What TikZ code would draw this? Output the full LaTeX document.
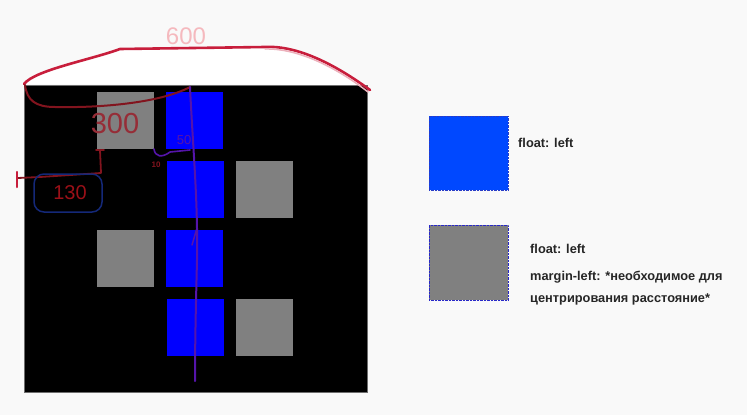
\documentclass[tikz,border=0pt]{standalone}
\usepackage{fontspec}
\setmainfont{Liberation Sans}
\begin{document}
\begin{tikzpicture}[x=1pt,y=-1pt,
  sq/.style={draw=none,inner sep=0pt,minimum width=57pt,minimum height=57pt,anchor=north west},
  graysq/.style={sq,fill={rgb,255:red,128;green,128;blue,128}},
  bluesq/.style={sq,fill={rgb,255:red,0;green,0;blue,255}},
  lbl/.style={anchor=west,inner sep=0pt,font=\fontsize{12.8}{15}\selectfont\bfseries,text=black!85},
  hand/.style={line cap=round,line join=round}]
\definecolor{bg}{RGB}{249,249,249}
\definecolor{redpen}{RGB}{200,30,60}
\definecolor{darkred}{RGB}{130,20,30}
\definecolor{purplepen}{RGB}{85,20,170}
\definecolor{navypen}{RGB}{20,40,120}
\definecolor{legblue}{RGB}{0,72,255}
\fill[bg] (0,0) rectangle (747,415);
\useasboundingbox (0,0) rectangle (747,415);
% white area under the top curve
\fill[white] (24,84) .. controls (35,70) and (90,60) .. (120,49) -- (265,47) .. controls (300,45) and (340,68) .. (367,88) -- (367,85) -- cycle;
% container
\node[draw={rgb,255:red,110;green,110;blue,110},line width=0.6pt,fill=black,inner sep=0pt,minimum width=343pt,minimum height=307pt,anchor=north west] (box) at (24,85) {};
% squares
\node[graysq] (g1) at (97,92) {};
\node[bluesq] (b1) at (166,92) {};
\node[bluesq] (b2) at (167,161) {};
\node[graysq] (g2) at (236,161) {};
\node[graysq] (g3) at (97,230) {};
\node[bluesq] (b3) at (166,230) {};
\node[bluesq] (b4) at (167,299) {};
\node[graysq] (g4) at (236,299) {};
% legend
\node[sq,fill=legblue,draw={rgb,255:red,40;green,60;blue,200},densely dotted,line width=0.4pt,minimum width=79pt,minimum height=74pt] (lb) at (429,116) {};
\node[sq,fill={rgb,255:red,128;green,128;blue,128},draw={rgb,255:red,40;green,40;blue,200},densely dotted,line width=0.4pt,minimum width=79pt,minimum height=75pt] (lg) at (429,225) {};
\node[lbl] (t1) at (518,143) {float: left};
\node[lbl] (t2) at (530,249) {float: left};
\node[lbl] (t3) at (530,277) {margin-left: *необходимое для};
\node[lbl] (t4) at (530,299) {центрирования расстояние*};
% hand-drawn annotations
\draw[hand,redpen,line width=2.6pt] (24,84) .. controls (35,70) and (90,60) .. (120,49) -- (265,47) .. controls (300,45) and (340,68) .. (370,90);
\draw[hand,redpen!35,line width=1.5pt] (265,49) .. controls (300,48) and (340,70) .. (368,92);
\node[text={rgb,255:red,245;green,185;blue,190},font=\fontsize{24}{24}\selectfont,inner sep=0pt] (t600) at (186,36) {600};
\draw[hand,darkred,line width=2pt] (25,85) .. controls (27,100) and (35,107) .. (55,107) .. controls (100,108) and (160,103) .. (190,87);
\draw[hand,purplepen,line width=2pt] (190,87) .. controls (193,150) and (198,200) .. (197,260) .. controls (196,300) and (195,340) .. (195,381);
\draw[hand,purplepen,line width=1.5pt] (197,228) -- (192,245);
\node[text={rgb,255:red,150;green,45;blue,55},font=\fontsize{29}{29}\selectfont,inner sep=0pt] (t300) at (115,124) {300};
\node[text=purplepen,font=\fontsize{13}{13}\selectfont,inner sep=0pt] (t50) at (184,140) {50};
\draw[hand,purplepen,line width=1.6pt] (154,149) .. controls (155,157) and (162,158) .. (170,152) -- (190,150);
\node[text=darkred,font=\fontsize{8}{8}\selectfont\bfseries,inner sep=0pt] (t10) at (156,165) {10};
\draw[hand,darkred,line width=1.8pt] (96,150) -- (104,150) (100,150) -- (101,173) -- (40,177) -- (18,178);
\draw[hand,redpen,line width=2.5pt] (17,172) -- (17,187);
\draw[hand,navypen,line width=1.5pt,rounded corners=10pt] (34,174) rectangle (102,212);
\node[text=darkred!80!red,font=\fontsize{20}{20}\selectfont,inner sep=0pt] (t130) at (70,193) {130};
\end{tikzpicture}
\end{document}
